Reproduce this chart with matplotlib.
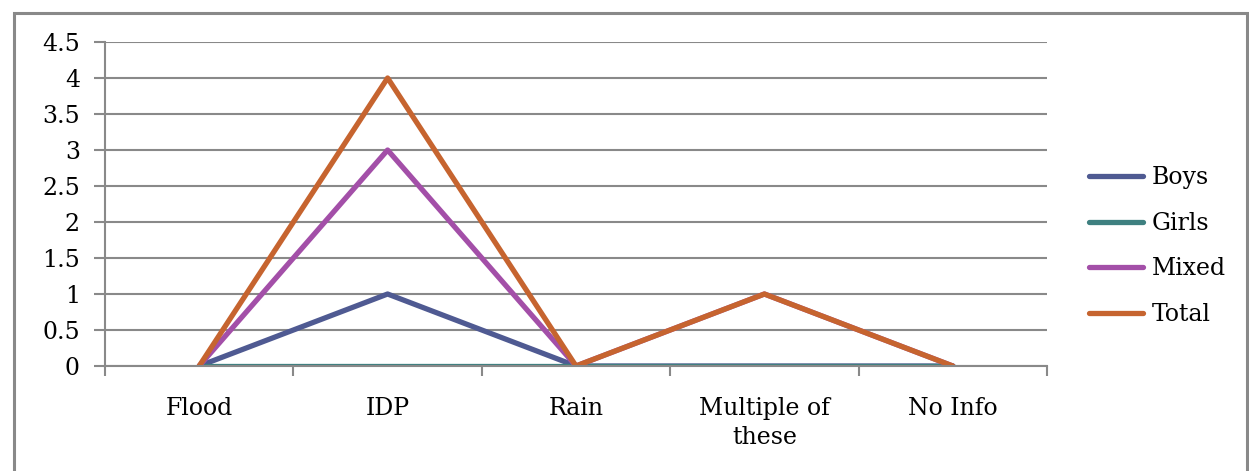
import matplotlib.pyplot as plt
from matplotlib.patches import Rectangle

categories = ["Flood", "IDP", "Rain", "Multiple of\nthese", "No Info"]
boys = [0, 1, 0, 0, 0]
girls = [0, 0, 0, 0, 0]
mixed = [0, 3, 0, 1, 0]
total = [0, 4, 0, 1, 0]
yticks = [0, 0.5, 1, 1.5, 2, 2.5, 3, 3.5, 4, 4.5]
ytick_labels = ["0", "0.5", "1", "1.5", "2", "2.5", "3", "3.5", "4", "4.5"]

plt.rcParams['font.family'] = ['DejaVu Serif']
grey = "#898989"

fig = plt.figure(figsize=(12.49, 4.71), dpi=100)
fig.patches.append(Rectangle((14 / 1249, -0.05), 1233 / 1249, 1.05 - 13 / 471,
                             transform=fig.transFigure, fill=False,
                             edgecolor=grey, linewidth=2.2))
ax = fig.add_axes([105 / 1249, 105 / 471, 942 / 1249, 324 / 471])

x = list(range(len(categories)))
lw = 3.8
ax.plot(x, boys, color="#4F5A92", lw=lw, label="Boys", solid_capstyle="round")
ax.plot(x, girls, color="#3E8080", lw=lw, label="Girls", solid_capstyle="round")
ax.plot(x, mixed, color="#A34FA8", lw=lw, label="Mixed", solid_capstyle="round")
ax.plot(x, total, color="#C6642F", lw=lw, label="Total", solid_capstyle="round")

ax.set_xlim(-0.5, len(categories) - 0.5)
ax.set_ylim(0, 4.5)
ax.set_yticks(yticks)
ax.set_yticklabels(ytick_labels, fontsize=17)
ax.set_xticks(x)
ax.set_xticklabels(categories, fontsize=17, linespacing=1.35)
ax.tick_params(axis="x", length=0, pad=22)
ax.set_xticks([i - 0.5 for i in range(len(categories) + 1)], minor=True)
ax.tick_params(axis="x", which="minor", length=7, color=grey, width=1.5)
ax.tick_params(axis="y", length=8, color=grey, width=1.5, pad=10)
ax.yaxis.grid(True, color=grey, lw=1.5)
ax.set_axisbelow(True)
for s in ["top", "right"]:
    ax.spines[s].set_visible(False)
for s in ["left", "bottom"]:
    ax.spines[s].set_color(grey)
    ax.spines[s].set_linewidth(1.5)

leg = ax.legend(loc="center left", bbox_to_anchor=(1.022, 0.37), frameon=False,
                fontsize=17, handlelength=2.3, handletextpad=0.35, labelspacing=0.95)

fig.savefig("out.png", dpi=100)
